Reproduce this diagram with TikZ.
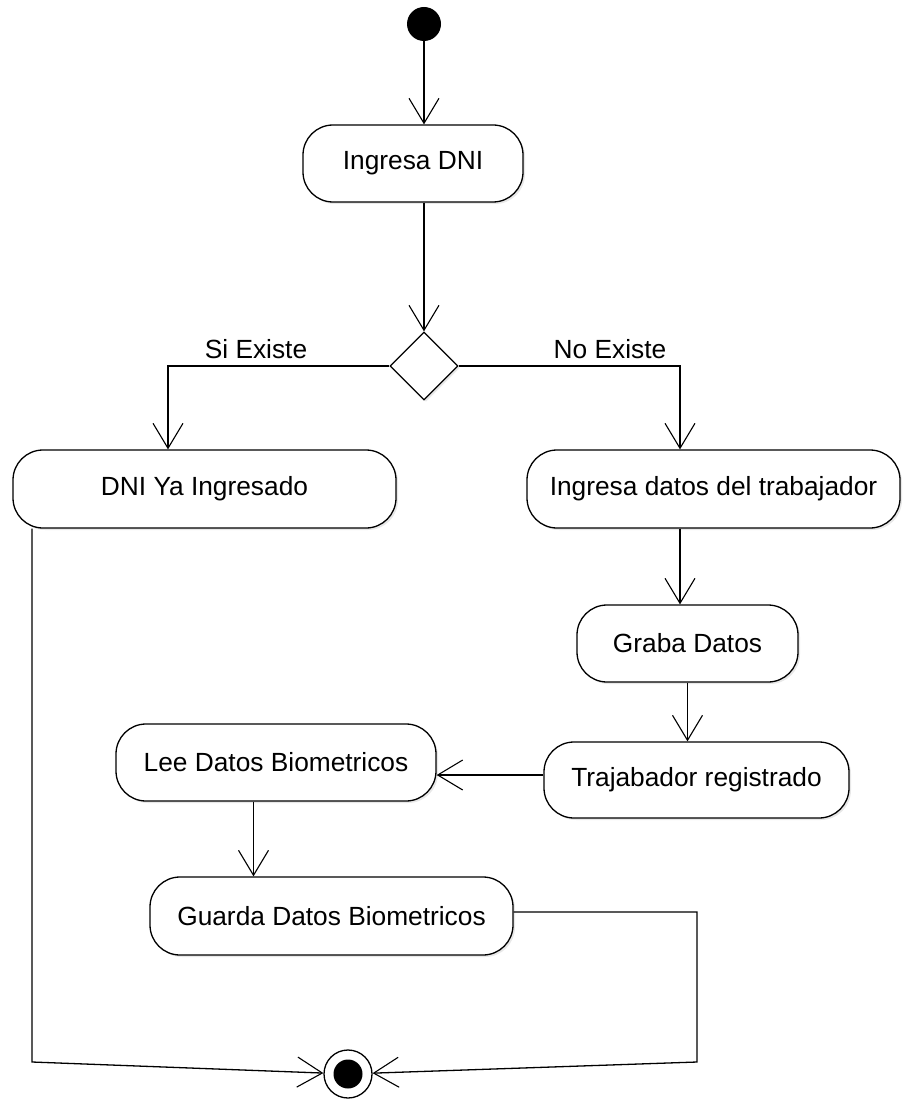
\documentclass[tikz,border=0pt]{standalone}
\usepackage{fontspec}
\setmainfont{Liberation Sans}
\usetikzlibrary{arrows.meta,shapes.geometric,shadows}
\begin{document}
\begin{tikzpicture}[x=1pt,y=-1pt,
  txt/.style={font=\fontsize{26.3}{30}\selectfont},
  act/.style={txt, draw, line width=1.3pt, rounded corners=30pt, inner sep=0pt, fill=white,
    drop shadow={shadow xshift=2pt, shadow yshift=-2pt, fill=black!18}},
  decision/.style={draw, diamond, line width=1.3pt, inner sep=0pt, fill=white,
    minimum width=68pt, minimum height=68pt,
    drop shadow={shadow xshift=2pt, shadow yshift=-2pt, fill=black!18}},
  flow/.style={line width=1.3pt, -{Straight Barb[length=25pt,width=30pt,line width=1.1pt]}}
]
\useasboundingbox (0,0) rectangle (902,1099);

% initial and final states
\node[circle, fill=black, minimum size=34pt, inner sep=0pt] (start) at (424,24) {};
\node[circle, draw, line width=1.3pt, minimum size=48pt, inner sep=0pt, fill=white] (fin) at (348,1074) {};
\node[circle, fill=black, minimum size=29pt, inner sep=0pt] (finc) at (fin.center) {};

% activities
\node[act, minimum width=220pt, minimum height=77pt] (ingdni) at (413,163.5) {Ingresa DNI};
\node[decision] (dec) at (424,366) {};
\node[act, minimum width=383pt, minimum height=78pt] (dniya) at (204.5,489) {DNI Ya Ingresado};
\node[act, minimum width=373pt, minimum height=78pt] (ingdat) at (713.5,489) {Ingresa datos del trabajador};
\node[act, minimum width=221pt, minimum height=77pt] (graba) at (687.5,643.5) {Graba Datos};
\node[act, minimum width=305pt, minimum height=76pt] (trab) at (696.5,780) {Trajabador registrado};
\node[act, minimum width=320pt, minimum height=77pt] (lee) at (276,762.5) {Lee Datos Biometricos};
\node[act, minimum width=363pt, minimum height=78pt] (guarda) at (331.5,916) {Guarda Datos Biometricos};

% guard labels
\node[txt] (si) at (256,349) {Si Existe};
\node[txt] (no) at (610,349) {No Existe};

% bend points of the two edges into the final state
\coordinate (c1) at (697,1062);
\coordinate (c2) at (32,1062);

% transitions
\draw[flow] (start) -- (ingdni.north -| start);
\draw[flow] (ingdni.south -| dec) -- (dec.north);
\draw[flow] (dec.west) -| ([xshift=-36.5pt]dniya.north);
\draw[flow] (dec.east) -| ([xshift=-33.5pt]ingdat.north);
\draw[flow] ([xshift=-33.5pt]ingdat.south) -- ([xshift=-7.5pt]graba.north);
\draw[flow] (graba.south) -- (graba.south |- trab.north);
\draw[flow] ([yshift=5pt]trab.west) -- ([yshift=5pt]trab.west -| lee.east);
\draw[flow] ([xshift=-22.5pt]lee.south) -- ([xshift=-22.5pt]lee.south |- guarda.north);
\draw[flow] ([yshift=4pt]guarda.east) -| (c1) -- (fin);
\draw[flow] (c2 |- dniya.south) -- (c2) -- (fin);
\end{tikzpicture}
\end{document}
